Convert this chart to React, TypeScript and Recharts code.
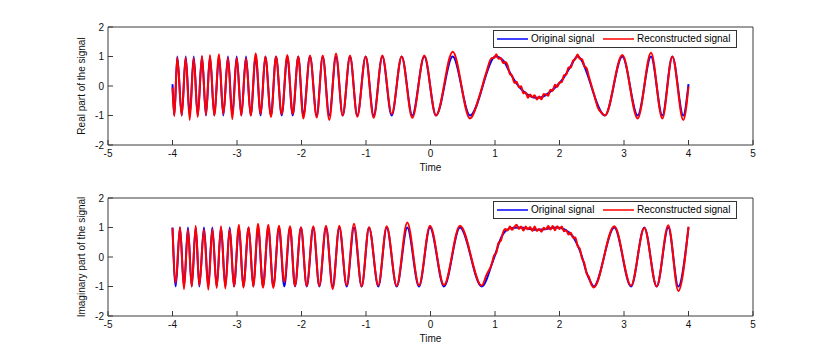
import React from 'react'
import { LineChart, Line, XAxis, YAxis, Label } from 'recharts'

const xTicks = [-5, -4, -3, -2, -1, 0, 1, 2, 3, 4, 5]
const yTicks = [-2, -1, 0, 1, 2]

// real part, original signal (extrema + a few shape points)
const origRealT = [
  -4.0, -3.972, -3.926, -3.857, -3.795, -3.733, -3.671, -3.609, -3.543, -3.481,
  -3.419, -3.352, -3.279, -3.212, -3.14, -3.073, -3.005, -2.933, -2.86, -2.788,
  -2.71, -2.633, -2.561, -2.473, -2.395, -2.307, -2.22, -2.136, -2.05, -1.972,
  -1.868, -1.764, -1.671, -1.569, -1.465, -1.361, -1.248, -1.135, -1.005, -0.881,
  -0.747, -0.602, -0.447, -0.282, -0.096, 0.085, 0.344, 0.612, 1.008, 1.129,
  1.233, 1.336, 1.439, 1.543, 1.647, 1.749, 1.853, 1.957, 2.059, 2.163,
  2.279, 2.705, 2.974, 3.212, 3.419, 3.594, 3.749, 3.919, 4.0,
]
const origRealV = [
  0.06, -1, 1, -1, 1, -1, 1, -1, 1, -1,
  1, -1, 1, -1, 1, -1, 1, -1, 1, -1,
  1, -1, 1, -1, 1, -1, 1, -1, 1, -1,
  1, -1, 1, -1, 1, -1, 1, -1, 1, -1,
  1, -1, 1, -1, 1, -1, 1, -1, 1, 0.86,
  0.45, 0.08, -0.18, -0.34, -0.4, -0.36, -0.2, 0.0, 0.26, 0.63,
  1, -1, 1, -1, 1, -1, 1, -1, 0.06,
]

// real part, reconstructed signal
const reconRealT = [
  -4.0, -3.972, -3.926, -3.857, -3.795, -3.733, -3.671, -3.609, -3.543, -3.481,
  -3.419, -3.352, -3.279, -3.212, -3.14, -3.073, -3.005, -2.933, -2.86, -2.788,
  -2.71, -2.633, -2.561, -2.473, -2.395, -2.307, -2.22, -2.136, -2.05, -1.972,
  -1.868, -1.764, -1.671, -1.569, -1.465, -1.361, -1.248, -1.135, -1.005, -0.881,
  -0.747, -0.602, -0.447, -0.282, -0.096, 0.085, 0.344, 0.612, 0.76, 0.86,
  0.95, 0.985, 1.02, 1.055, 1.09, 1.125, 1.16, 1.195, 1.23, 1.265,
  1.3, 1.335, 1.37, 1.405, 1.44, 1.475, 1.51, 1.545, 1.58, 1.615,
  1.65, 1.685, 1.72, 1.755, 1.79, 1.825, 1.86, 1.895, 1.93, 1.965,
  2.0, 2.035, 2.07, 2.105, 2.14, 2.175, 2.21, 2.245, 2.28, 2.315,
  2.35, 2.385, 2.42, 2.455, 2.53, 2.6, 2.65, 2.705, 2.974, 3.212,
  3.419, 3.594, 3.749, 3.919, 4.0,
]
const reconRealV = [
  -0.05, -1.02, 0.97, -1.0, 0.97, -1.15, 0.95, -1.05, 1.02, -0.98,
  1.05, -1.0, 1.08, -0.95, 0.96, -1.13, 0.96, -1.0, 0.95, -1.0,
  1.1, -0.95, 1.0, -1.05, 1.0, -0.95, 1.05, -0.95, 1.0, -1.1,
  1.03, -1.07, 1.03, -1.15, 1.1, -1.0, 1.03, -1.04, 1.0, -1.08,
  1.03, -0.95, 1.0, -1.08, 1.03, -1.0, 1.16, -1.1, -0.33, 0.42,
  0.95, 0.95, 1.08, 0.92, 0.95, 0.78, 0.81, 0.7, 0.41, 0.35,
  0.11, 0.14, -0.04, -0.01, -0.25, -0.21, -0.4, -0.29, -0.38, -0.31,
  -0.46, -0.36, -0.45, -0.27, -0.29, -0.33, -0.13, -0.16, 0.04, -0.03,
  0.12, 0.13, 0.36, 0.39, 0.63, 0.62, 0.86, 0.91, 1.07, 0.92,
  0.91, 0.67, 0.6, 0.32, -0.24, -0.76, -0.9, -1.0, 1.05, -1.1,
  1.13, -1.1, 1.0, -1.15, -0.02,
]

// imaginary part, original signal
const origImagT = [
  -4.0, -3.95, -3.884, -3.822, -3.76, -3.702, -3.64, -3.584, -3.512, -3.445,
  -3.383, -3.315, -3.248, -3.181, -3.113, -3.047, -2.969, -2.902, -2.819, -2.747,
  -2.674, -2.597, -2.515, -2.437, -2.349, -2.267, -2.178, -2.101, -2.008, -1.919,
  -1.817, -1.724, -1.62, -1.516, -1.414, -1.299, -1.186, -1.067, -0.953, -0.809,
  -0.679, -0.524, -0.36, -0.178, -0.008, 0.209, 0.457, 0.794, 0.974, 1.104,
  1.233, 1.372, 1.667, 1.961, 2.085, 2.21, 2.28, 2.35, 2.42, 2.49,
  2.53, 2.85, 3.109, 3.315, 3.507, 3.687, 3.842, 4.0,
]
const origImagV = [
  1, -1, 1, -1, 1, -1, 1, -1, 1, -1,
  1, -1, 1, -1, 1, -1, 1, -1, 1, -1,
  1, -1, 1, -1, 1, -1, 1, -1, 1, -1,
  1, -1, 1, -1, 1, -1, 1, -1, 1, -1,
  1, -1, 1, -1, 1, -1, 1, -1, -0.1, 0.7,
  0.97, 1, 0.92, 1, 0.93, 0.69, 0.4, 0.0, -0.53, -0.88,
  -1, 1, -1, 1, -1, 1, -1, 1,
]

// imaginary part, reconstructed signal
const reconImagT = [
  -4.0, -3.95, -3.884, -3.822, -3.76, -3.702, -3.64, -3.584, -3.512, -3.445,
  -3.383, -3.315, -3.248, -3.181, -3.113, -3.047, -2.969, -2.902, -2.819, -2.747,
  -2.674, -2.597, -2.515, -2.437, -2.349, -2.267, -2.178, -2.101, -2.008, -1.919,
  -1.817, -1.724, -1.62, -1.516, -1.414, -1.299, -1.186, -1.067, -0.953, -0.809,
  -0.679, -0.524, -0.36, -0.178, -0.008, 0.209, 0.457, 0.794, 0.87, 0.95,
  0.985, 1.02, 1.055, 1.09, 1.125, 1.16, 1.195, 1.23, 1.265, 1.3,
  1.335, 1.37, 1.405, 1.44, 1.475, 1.51, 1.545, 1.58, 1.615, 1.65,
  1.685, 1.72, 1.755, 1.79, 1.825, 1.86, 1.895, 1.93, 1.965, 2.0,
  2.035, 2.07, 2.105, 2.14, 2.175, 2.21, 2.245, 2.28, 2.315, 2.35,
  2.385, 2.42, 2.455, 2.49, 2.53, 2.85, 3.109, 3.315, 3.507, 3.687,
  3.842, 4.0,
]
const reconImagV = [
  0.98, -0.87, 1.01, -1.09, 0.93, -1.0, 1.06, -0.96, 0.93, -1.11,
  0.95, -1.05, 1.04, -1.07, 0.95, -1.0, 1.09, -1.04, 1.01, -1.0,
  1.13, -1.04, 1.09, -1.05, 1.06, -0.85, 1.04, -0.98, 1.01, -0.98,
  1.04, -0.98, 1.06, -1.09, 1.06, -0.96, 1.13, -1.0, 1.01, -0.96,
  1.04, -0.98, 1.17, -0.96, 1.06, -0.95, 1.06, -0.97, -0.6, -0.24,
  0.05, 0.14, 0.48, 0.55, 0.83, 0.95, 0.9, 1.03, 0.92, 1.02,
  1.09, 0.95, 1.03, 0.9, 1.03, 0.94, 1.02, 0.88, 1.03, 0.88,
  0.95, 0.86, 0.99, 0.94, 1.05, 0.93, 1.05, 0.91, 1.04, 0.95,
  1.03, 0.87, 0.91, 0.76, 0.82, 0.65, 0.66, 0.38, 0.28, -0.05,
  -0.21, -0.56, -0.67, -0.91, -1.03, 1.04, -0.97, 0.98, -1.0, 1.08,
  -1.15, 1.03,
]

const zip = (ts: number[], vs: number[]) => ts.map((t, i) => ({ t, v: vs[i] }))

const FONT = '"Liberation Sans", Arial, Helvetica, sans-serif'
const AXIS = '#3a3a3a'
const BLUE = '#0000ff'
const RED = '#ff0000'

function ChartLegend() {
  return (
    <div style={{ position: 'absolute', left: 493, top: 30, width: 242, height: 16, border: '1px solid #333', background: '#fff', fontSize: 10, color: '#000' }}>
      <svg width={242} height={16} style={{ position: 'absolute', left: 0, top: 0 }}>
        <line x1={3} x2={34} y1={8} y2={8} stroke={BLUE} strokeWidth={1.5} />
        <line x1={109} x2={140} y1={8} y2={8} stroke={RED} strokeWidth={1.5} />
      </svg>
      <span style={{ position: 'absolute', left: 37, top: 2, whiteSpace: 'nowrap' }}>Original signal</span>
      <span style={{ position: 'absolute', left: 143, top: 2, whiteSpace: 'nowrap' }}>Reconstructed signal</span>
    </div>
  )
}

function Panel({ top, orig, recon, yLabel }: { top: number; orig: any[]; recon: any[]; yLabel: string }) {
  return (
    <div style={{ position: 'absolute', left: 0, top, width: 830, height: 175 }}>
      <LineChart width={830} height={175} margin={{ top: 26, right: 76, bottom: 2, left: 0 }}>
        <XAxis
          xAxisId="b" type="number" dataKey="t" domain={[-5, 5]} ticks={xTicks} interval={0}
          allowDataOverflow height={28} tickSize={-5} tickMargin={10} stroke={AXIS}
          tick={{ fill: '#111', fontSize: 10 }}
        >
          <Label content={(p: any) => (
            <text x={p.viewBox.x + p.viewBox.width / 2} y={p.viewBox.y + 25.5} textAnchor="middle" fontSize={10} fill="#111">Time</text>
          )} />
        </XAxis>
        <XAxis xAxisId="top" orientation="top" type="number" domain={[-5, 5]} ticks={xTicks} interval={0}
          allowDataOverflow height={1} tickSize={-5} tick={false} stroke={AXIS} />
        <YAxis
          yAxisId="l" type="number" domain={[-2, 2]} ticks={yTicks} interval={0} allowDataOverflow
          width={108} tickSize={-5} tickMargin={9} stroke={AXIS} tick={{ fill: '#111', fontSize: 10 }}
        >
          <Label content={(p: any) => {
            const cy = p.viewBox.y + p.viewBox.height / 2
            return (
              <text x={85} y={cy} transform={`rotate(-90 85 ${cy})`} textAnchor="middle" fontSize={10} fill="#111">{yLabel}</text>
            )
          }} />
        </YAxis>
        <YAxis yAxisId="r" orientation="right" type="number" domain={[-2, 2]} ticks={yTicks} interval={0}
          allowDataOverflow width={1} tickSize={-5} tick={false} stroke={AXIS} />
        <Line xAxisId="b" yAxisId="l" data={orig} dataKey="v" type="monotone" stroke={BLUE} strokeWidth={2} dot={false} isAnimationActive={false} />
        <Line xAxisId="b" yAxisId="l" data={recon} dataKey="v" type="monotone" stroke={RED} strokeWidth={2} dot={false} isAnimationActive={false} />
      </LineChart>
      <ChartLegend />
    </div>
  )
}

export default function App() {
  return (
    <div style={{ position: 'absolute', left: 0, top: 0, width: 830, height: 361, background: '#fff', fontFamily: FONT }}>
      <Panel top={0} orig={zip(origRealT, origRealV)} recon={zip(reconRealT, reconRealV)} yLabel="Real part of the signal" />
      <Panel top={171} orig={zip(origImagT, origImagV)} recon={zip(reconImagT, reconImagV)} yLabel="Imaginary part of the signal" />
    </div>
  )
}
